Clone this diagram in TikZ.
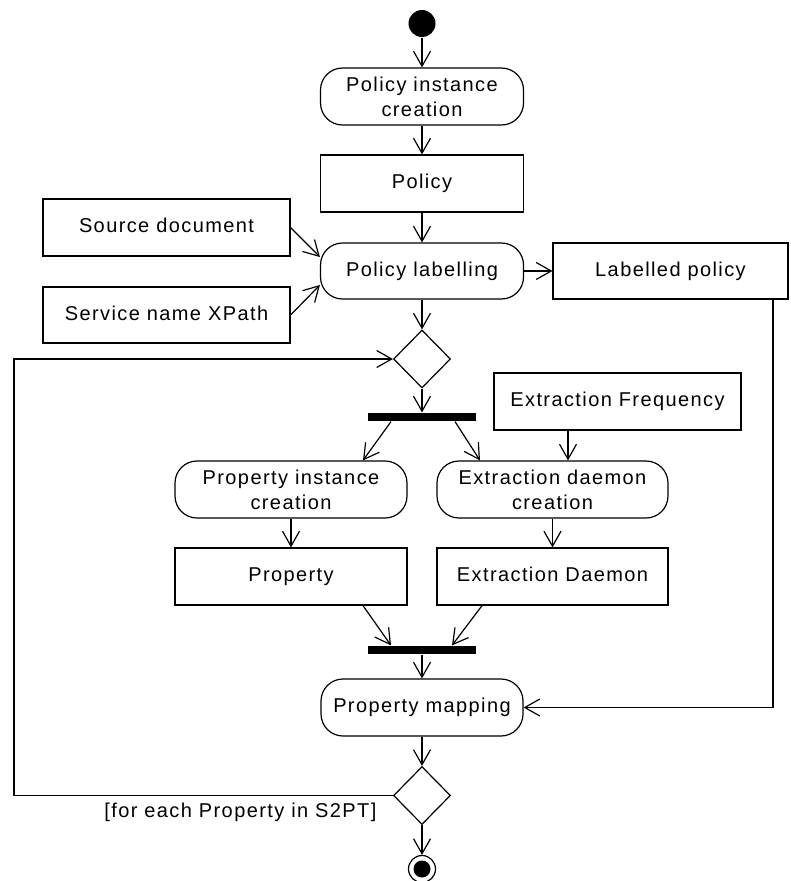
\documentclass[tikz,border=0pt]{standalone}
\usepackage{fontspec}
\setmainfont{Liberation Sans}[LetterSpace=7]
\usetikzlibrary{arrows.meta,shapes.geometric}
\begin{document}
\begin{tikzpicture}[x=1pt,y=-1pt,line width=1.2pt,
  every node/.style={font=\fontsize{20}{25}\selectfont},
  action/.style={draw, rounded corners=22pt, align=center, inner sep=0pt},
  oneline/.style={text height=14pt, text depth=4pt},
  objbox/.style={draw, rectangle, align=center, inner sep=0pt, oneline},
  decision/.style={draw, diamond, minimum width=57pt, minimum height=58pt, inner sep=0pt},
  syncbar/.style={fill=black, rectangle, minimum width=108pt, minimum height=8pt, inner sep=0pt},
  initial/.style={circle, fill=black, minimum size=27pt, inner sep=0pt},
  final/.style={circle, draw, fill=white, minimum size=27pt, inner sep=0pt},
  finalcore/.style={circle, fill=black, minimum size=17pt, inner sep=0pt},
  flow/.style={-{Straight Barb[length=15pt,width=17pt]}}
]
\useasboundingbox (0,0) rectangle (790,881);

% nodes
\node[initial] (start) at (422,23.5) {};
\node[action, minimum width=203pt, minimum height=57pt] (pic) at (422,96.5) {Policy instance\\creation};
\node[objbox, minimum width=203pt, minimum height=57pt] (pol) at (422,183.5) {Policy};
\node[objbox, minimum width=247pt, minimum height=57pt] (src) at (166.5,227.5) {Source document};
\node[objbox, minimum width=247pt, minimum height=56pt] (xp) at (166.5,315) {Service name XPath};
\node[action, oneline, minimum width=203pt, minimum height=56pt] (lab) at (422,271) {Policy labelling};
\node[objbox, minimum width=235pt, minimum height=56pt] (lp) at (670.5,271) {Labelled policy};
\node[decision] (d1) at (422,359) {};
\node[syncbar] (f1) at (422,417) {};
\node[objbox, minimum width=247pt, minimum height=57pt] (ef) at (617.5,401.5) {Extraction Frequency};
\node[action, minimum width=232pt, minimum height=57pt] (pac) at (291,489.5) {Property instance\\creation};
\node[action, minimum width=231pt, minimum height=57pt] (edc) at (552.5,489.5) {Extraction daemon\\creation};
\node[objbox, minimum width=232pt, minimum height=57pt] (prop) at (291,576.5) {Property};
\node[objbox, minimum width=231pt, minimum height=57pt] (ed) at (552.5,576.5) {Extraction Daemon};
\node[syncbar] (f2) at (422,650) {};
\node[action, oneline, minimum width=202pt, minimum height=57pt] (pm) at (422,707.5) {Property mapping};
\node[decision] (d2) at (422,795.5) {};
\node[final] (end) at (422,869) {};
\node[finalcore] (endcore) at (422,869) {};
\node[anchor=base east, inner sep=0pt] (guard) at (377,817) {[for each Property in S2PT]};
\coordinate (loopcorner) at (14,795.5);

% connectors
\draw[flow] (start) -- (pic);
\draw[flow] (pic) -- (pol);
\draw[flow] (pol) -- (lab);
\draw[flow] (src.east) -- ([yshift=14pt]lab.west);
\draw[flow] (xp.east) -- ([yshift=-14pt]lab.west);
\draw[flow] (lab) -- (lp);
\draw[flow] (lab) -- (d1);
\draw[flow] (d1) -- (f1);
\draw[flow] ([xshift=-31pt]f1.south) -- ([xshift=72pt]pac.north);
\draw[flow] ([xshift=33pt]f1.south) -- ([xshift=-72.5pt]edc.north);
\draw[flow] ([xshift=-49.5pt]ef.south) -- ([xshift=15.5pt]edc.north);
\draw[flow] (pac) -- (prop);
\draw[flow] (edc) -- (ed);
\draw[flow] ([xshift=72pt]prop.south) -- ([xshift=-31pt]f2.north);
\draw[flow] ([xshift=-70.5pt]ed.south) -- ([xshift=30pt]f2.north);
\draw[flow] (f2) -- (pm);
\draw[flow] ([xshift=102.5pt]lp.south) |- (pm.east);
\draw[flow] (pm) -- (d2);
\draw[flow] (d2.west) -- (loopcorner) |- (d1.west);
\draw[flow] (d2) -- (end);
\end{tikzpicture}
\end{document}
